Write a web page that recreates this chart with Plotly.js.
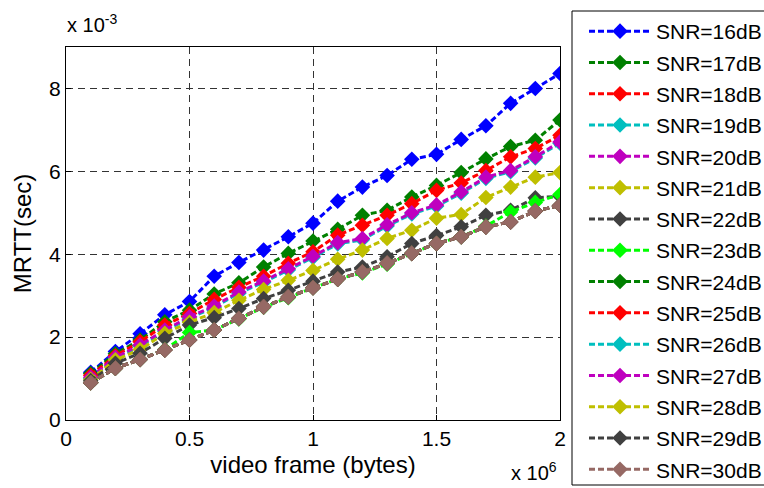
<!DOCTYPE html>
<html>
<head>
<meta charset="utf-8">
<script src="https://cdn.plot.ly/plotly-3.0.1.min.js"></script>
<style>html,body{margin:0;padding:0;background:#fff;}#chart{width:764px;height:488px;}</style>
</head>
<body>
<div id="chart"></div>
<script>
// x: video frame size (bytes)
const frameBytes = [100000,200000,300000,400000,500000,600000,700000,800000,900000,1000000,
                    1100000,1200000,1300000,1400000,1500000,1600000,1700000,1800000,1900000,2000000];
// y: MRTT in units of 1e-3 sec
const snr16 = [1.15,1.65,2.08,2.54,2.86,3.47,3.80,4.10,4.42,4.75,5.28,5.62,5.90,6.29,6.41,6.77,7.10,7.64,8.00,8.36];
const snr17 = [1.12,1.60,1.93,2.37,2.65,3.04,3.31,3.69,4.02,4.32,4.60,4.94,5.06,5.38,5.66,5.97,6.30,6.60,6.75,7.24];
const snr18 = [1.08,1.55,1.89,2.29,2.57,2.91,3.20,3.47,3.78,4.06,4.46,4.70,4.94,5.22,5.54,5.72,6.02,6.35,6.55,6.87];
const snr19 = [1.00,1.48,1.78,2.14,2.46,2.72,3.06,3.32,3.62,3.92,4.25,4.35,4.68,4.97,5.16,5.47,5.83,5.99,6.32,6.68];
const snr20 = [1.03,1.51,1.81,2.17,2.49,2.75,3.09,3.35,3.65,3.95,4.28,4.38,4.71,5.00,5.19,5.50,5.86,6.02,6.35,6.71];
const snr21 = [0.98,1.45,1.70,2.09,2.36,2.59,2.89,3.15,3.37,3.61,3.88,4.10,4.38,4.58,4.87,4.96,5.37,5.62,5.86,5.97];
const snr22 = [0.95,1.37,1.61,1.97,2.29,2.47,2.69,2.93,3.13,3.35,3.57,3.69,3.94,4.26,4.45,4.66,4.94,5.06,5.36,5.40];
const snr23 = [0.90,1.25,1.46,1.70,2.11,2.17,2.44,2.72,2.95,3.19,3.40,3.55,3.76,4.02,4.26,4.42,4.68,5.02,5.25,5.44];
const snr24 = [0.90,1.25,1.46,1.69,1.93,2.17,2.45,2.73,2.97,3.19,3.40,3.57,3.78,4.02,4.26,4.42,4.66,4.78,5.04,5.18];
const snr25 = [0.90,1.25,1.46,1.69,1.93,2.17,2.45,2.73,2.97,3.19,3.40,3.57,3.78,4.02,4.26,4.42,4.66,4.78,5.04,5.18];
const snr26 = [0.90,1.25,1.46,1.69,1.93,2.17,2.45,2.73,2.97,3.19,3.40,3.57,3.78,4.02,4.26,4.42,4.66,4.78,5.04,5.18];
const snr27 = [0.90,1.25,1.46,1.69,1.93,2.17,2.45,2.73,2.97,3.19,3.40,3.57,3.78,4.02,4.26,4.42,4.66,4.78,5.04,5.18];
const snr28 = [0.90,1.25,1.46,1.69,1.93,2.17,2.45,2.73,2.97,3.19,3.40,3.57,3.78,4.02,4.26,4.42,4.66,4.78,5.04,5.18];
const snr29 = [0.90,1.25,1.46,1.69,1.93,2.17,2.45,2.73,2.97,3.19,3.40,3.57,3.78,4.02,4.26,4.42,4.66,4.78,5.04,5.18];
const snr30 = [0.90,1.25,1.46,1.69,1.93,2.17,2.45,2.73,2.97,3.19,3.40,3.57,3.78,4.02,4.26,4.42,4.66,4.78,5.04,5.18];

const seriesNames = ['SNR=16dB','SNR=17dB','SNR=18dB','SNR=19dB','SNR=20dB','SNR=21dB','SNR=22dB','SNR=23dB',
                     'SNR=24dB','SNR=25dB','SNR=26dB','SNR=27dB','SNR=28dB','SNR=29dB','SNR=30dB'];
const seriesValues = [snr16,snr17,snr18,snr19,snr20,snr21,snr22,snr23,snr24,snr25,snr26,snr27,snr28,snr29,snr30];
const seriesColors = ['#0000FF','#008000','#FF0000','#00BFBF','#BF00BF','#BFBF00','#404040','#00FF00',
                      '#008000','#FF0000','#00BFBF','#BF00BF','#BFBF00','#404040','#966964'];

const xTickVals = [0,500000,1000000,1500000,2000000];
const xTickText = ['0','0.5','1','1.5','2'];
const yTickVals = [0,2,4,6,8];
const yTickText = ['0','2','4','6','8'];

const FONT = 'Liberation Sans, Arial, Helvetica, sans-serif';

const traces = seriesValues.map((vals, k) => ({
  type: 'scatter',
  mode: 'lines+markers',
  x: frameBytes,
  y: vals,
  name: seriesNames[k],
  legendgroup: 'g' + k,
  line: {color: seriesColors[k], width: 3, dash: '6px,3px'},
  marker: {symbol: 'diamond', size: 12, color: seriesColors[k], line: {width: 0}}
}));

const layout = {
  width: 764, height: 488,
  margin: {l: 66, r: 204, t: 47, b: 68, autoexpand: false},
  paper_bgcolor: '#fff', plot_bgcolor: '#fff',
  font: {family: FONT, color: '#000', size: 20},
  showlegend: true,
  legend: {
    x: 1.0486, xanchor: 'left', y: 1.0965, yanchor: 'top',
    bgcolor: 'rgba(0,0,0,0)', borderwidth: 0,
    font: {family: FONT, size: 21, color: '#000'},
    traceorder: 'grouped', tracegroupgap: 1, itemwidth: 62,
    maxheight: 480
  },
  shapes: [
    {type: 'rect', xref: 'paper', yref: 'paper', x0: 1.0243, x1: 1.5, y0: -0.1743, y1: 1.0965,
     line: {color: '#000', width: 1}, fillcolor: 'rgba(0,0,0,0)', layer: 'below'}
  ],
  xaxis: {
    range: [0, 2000000], tickvals: xTickVals, ticktext: xTickText,
    showline: true, mirror: true, linecolor: '#000', linewidth: 1,
    ticks: 'inside', ticklen: 5, tickcolor: '#000',
    showgrid: true, gridcolor: '#333', griddash: '7px,5px', gridwidth: 1,
    zeroline: false, tickfont: {size: 21, family: FONT},
    title: {text: 'video frame (bytes)', font: {size: 24, family: FONT}, standoff: 6}
  },
  yaxis: {
    range: [0, 9], tickvals: yTickVals, ticktext: yTickText,
    showline: true, mirror: true, linecolor: '#000', linewidth: 1,
    ticks: 'inside', ticklen: 5, tickcolor: '#000',
    showgrid: true, gridcolor: '#333', griddash: '7px,5px', gridwidth: 1,
    zeroline: false, tickfont: {size: 21, family: FONT},
    title: {text: 'MRTT(sec)', font: {size: 24, family: FONT}, standoff: 10}
  },
  annotations: [
    {xref: 'paper', yref: 'paper', x: -0.002, y: 1.025, xanchor: 'left', yanchor: 'bottom',
     text: 'x 10<sup>-3</sup>', showarrow: false, font: {size: 20, family: FONT}},
    {xref: 'paper', yref: 'paper', x: 0.896, y: -0.178, xanchor: 'left', yanchor: 'bottom',
     text: 'x 10<sup>6</sup>', showarrow: false, font: {size: 20, family: FONT}}
  ]
};

Plotly.newPlot('chart', traces, layout, {staticPlot: true, displayModeBar: false});
</script>
</body>
</html>
